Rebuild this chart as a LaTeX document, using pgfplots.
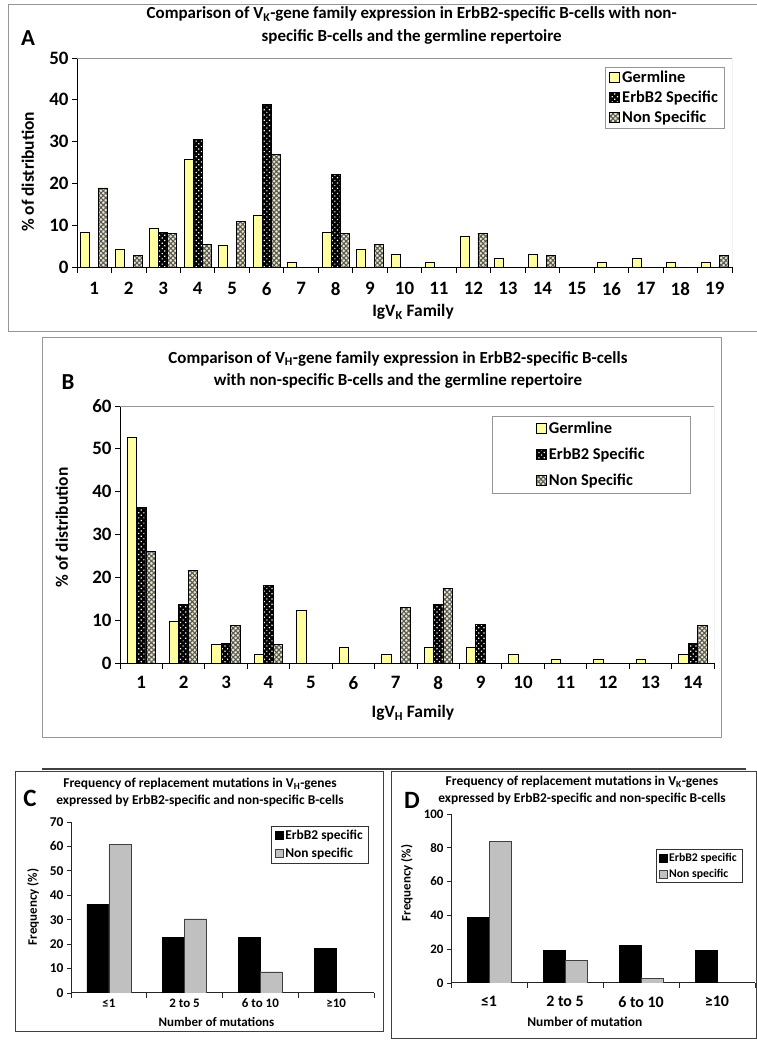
\documentclass[border=0pt]{standalone}
\usepackage{fontspec}
\setmainfont{Carlito}
\usepackage{pgfplots}
\pgfplotsset{compat=1.18}
\usetikzlibrary{patterns,patterns.meta}
\definecolor{germ}{RGB}{255,255,160}
\definecolor{nsbg}{RGB}{236,232,198}
\definecolor{fgray}{RGB}{150,150,150}
\definecolor{ltg}{RGB}{192,192,192}
\tikzset{
  germst/.style={fill=germ,draw=black,line width=0.9bp},
  erbst/.style={fill=black,draw=black,line width=0.9bp,postaction={pattern={Dots[radius=0.85bp,distance=3.7bp,angle=45]},pattern color=white}},
  nonst/.style={fill=nsbg,draw=black,line width=0.9bp,postaction={pattern={Hatch[distance=3.4bp,angle=45,line width=1.1bp]},pattern color=black!65}},
}
\pgfplotsset{
 panelAB/.style={
  scale only axis, axis lines*=left, axis line style={-,black,line width=0.9bp},
  ybar=0pt, ymin=0, enlarge y limits=false,
  tick align=outside, tick style={black, line width=0.8bp},
  major tick length=5bp, minor tick length=6bp,
  major x tick style={draw=none},
  /pgf/number format/assume math mode=true,
  ticklabel style={font=\bfseries\fontsize{19}{19}\selectfont},
  label style={font=\bfseries\fontsize{17.5}{18}\selectfont},
  title style={font=\bfseries\fontsize{17}{23}\selectfont, align=center},
  legend style={draw=fgray, font=\bfseries\fontsize{16.5}{18}\selectfont},
  legend cell align=left,
  legend image code/.code={\draw[##1] (0bp,-5bp) rectangle (10bp,5bp);},
 },
 panelCD/.style={
  scale only axis, axis lines*=left, axis line style={-,black!85,line width=1bp},
  ybar=0pt, ymin=0, enlarge y limits=false,
  tick align=outside, tick style={black!85, line width=0.8bp},
  major tick length=4bp, minor tick length=5bp,
  major x tick style={draw=none},
  xmin=0.5, xmax=4.5, xtick={1,2,3,4}, minor xtick={0.5,1.5,2.5,3.5,4.5},
  xticklabels={≤1,2 to 5,6 to 10,≥10},
  bar width=22bp,
  /pgf/number format/assume math mode=true,
  title style={align=center},
  legend cell align=left,
  legend image code/.code={\draw[##1] (0bp,-4bp) rectangle (8bp,4bp);},
 },
}
\begin{document}
\begin{tikzpicture}[x=1bp,y=1bp]
\useasboundingbox (0,0) rectangle (757,1049);
% frames
\draw[fgray, line width=1bp] (760,1044) -- (8,1044) -- (8,717) -- (760,717);
\draw[fgray, line width=1bp] (42,311) rectangle (721,711);
\draw[black!75, line width=1.2bp] (42,280) -- (746,280);
\draw[black!75, line width=1bp] (15,17) rectangle (383,277);
\draw[black!75, line width=1bp] (391,10) rectangle (756,277);
\node[font=\bfseries\fontsize{23}{23}\selectfont] at (28,1011) {A};
\node[font=\bfseries\fontsize{23}{23}\selectfont] at (68,667) {B};
\node[font=\bfseries\fontsize{25}{25}\selectfont] at (30,251) {C};
\node[font=\bfseries\fontsize{25}{25}\selectfont] at (412,249) {D};

% ---------- Panel A
\begin{axis}[panelAB, at={(77bp,782bp)}, anchor=south west, width=655bp, height=209bp,
 xmin=0.5, xmax=19.5, ymax=50, ytick={0,10,...,50},
 xtick={1,...,19}, minor xtick={0.5,1.5,...,19.5}, bar width=9bp,
 title={Comparison of V\textsubscript{K}-gene family expression in ErbB2-specific B-cells with non-\\specific B-cells and the germline repertoire},
 title style={at={(axis description cs:0.511,1.127)}, anchor=center},
 xlabel={IgV\textsubscript{K} Family}, xlabel style={at={(axis description cs:0.513,-0.215)},anchor=center},
 ylabel={\% of distribution}, ylabel style={at={(axis description cs:-0.075,0.455)},anchor=center},
 legend style={at={(axis description cs:0.988,0.957)},anchor=north east, inner xsep=4bp, row sep=3bp},
 xticklabel style={yshift=-7bp},
]
\addplot[germst] coordinates {(1,8.3)(2,4.2)(3,9.3)(4,25.8)(5,5.2)(6,12.4)(7,1.0)(8,8.3)(9,4.2)(10,3.1)(11,1.0)(12,7.2)(13,2.1)(14,3.1)(16,1.0)(17,2.1)(18,1.0)(19,1.0)};
\addplot[erbst] coordinates {(3,8.3)(4,30.6)(6,38.9)(8,22.2)};
\addplot[nonst] coordinates {(1,18.9)(2,2.7)(3,8.1)(4,5.4)(5,10.8)(6,27.0)(8,8.1)(9,5.4)(12,8.1)(14,2.7)(19,2.7)};
\legend{Germline,ErbB2 Specific,Non Specific}
\draw[fgray, line width=0.9bp] (rel axis cs:0,1) -- (rel axis cs:1,1) -- (rel axis cs:1,0);
\end{axis}

% ---------- Panel B
\begin{axis}[panelAB, at={(120bp,386bp)}, anchor=south west, width=594bp, height=257bp,
 xmin=0.5, xmax=14.5, ymax=60, ytick={0,10,...,60},
 xtick={1,...,14}, minor xtick={0.5,1.5,...,14.5}, bar width=9.5bp,
 title={Comparison of V\textsubscript{H}-gene family expression in ErbB2-specific B-cells\\with non-specific B-cells and the germline repertoire},
 title style={at={(axis description cs:0.468,1.117)}, anchor=center},
 xlabel={IgV\textsubscript{H} Family}, xlabel style={at={(axis description cs:0.493,-0.195)},anchor=center},
 ylabel={\% of distribution}, ylabel style={at={(axis description cs:-0.098,0.527)},anchor=center},
 legend style={at={(axis description cs:0.961,0.961)},anchor=north east, inner xsep=44bp, inner ysep=4bp, row sep=9bp},
 xticklabel style={yshift=-5bp},
]
\addplot[germst] coordinates {(1,52.6)(2,9.8)(3,4.3)(4,1.9)(5,12.2)(6,3.7)(7,1.9)(8,3.7)(9,3.7)(10,1.9)(11,0.9)(12,0.9)(13,0.9)(14,1.9)};
\addplot[erbst] coordinates {(1,36.4)(2,13.6)(3,4.5)(4,18.2)(8,13.6)(9,9.1)(14,4.5)};
\addplot[nonst] coordinates {(1,26.1)(2,21.7)(3,8.7)(4,4.3)(7,13.0)(8,17.4)(14,8.7)};
\legend{Germline,ErbB2 Specific,Non Specific}
\draw[fgray, line width=0.9bp] (rel axis cs:0,1) -- (rel axis cs:1,1) -- (rel axis cs:1,0);
\end{axis}

% ---------- Panel C
\begin{axis}[panelCD, at={(71bp,56bp)}, anchor=south west, width=303bp, height=171bp,
 ymax=70, ytick={0,10,...,70},
 yticklabel style={font=\bfseries\fontsize{13.5}{14}\selectfont},
 xticklabel style={font=\bfseries\fontsize{13}{13}\selectfont, inner sep=0.5bp, yshift=-1bp},
 title={Frequency of replacement mutations in V\textsubscript{H}-genes\\expressed by ErbB2-specific and non-specific B-cells},
 title style={font=\bfseries\fontsize{13.5}{17}\selectfont, at={(axis description cs:0.426,1.137)}, anchor=center},
 xlabel={Number of mutations}, xlabel style={font=\bfseries\fontsize{13}{13}\selectfont, inner sep=0.5bp, at={(axis description cs:0.48,-0.170)},anchor=center},
 ylabel={Frequency (\%)}, ylabel style={font=\bfseries\fontsize{13}{13}\selectfont, at={(axis description cs:-0.125,0.503)},anchor=center},
 legend style={draw=black!80, font=\bfseries\fontsize{13.5}{14}\selectfont, at={(axis description cs:0.983,0.977)},anchor=north east, row sep=3bp, inner xsep=4bp},
]
\addplot[fill=black, draw=black] coordinates {(1,36.4)(2,22.7)(3,22.7)(4,18.2)};
\addplot[fill=ltg, draw=black!75] coordinates {(1,60.9)(2,30.4)(3,8.7)};
\legend{ErbB2 specific,Non specific}
\end{axis}

% ---------- Panel D
\begin{axis}[panelCD, at={(451bp,66bp)}, anchor=south west, width=304bp, height=169bp,
 ymax=100, ytick={0,20,...,100},
 yticklabel style={font=\bfseries\fontsize{13}{13}\selectfont},
 xticklabel style={font=\bfseries\fontsize{16}{16}\selectfont, yshift=-6bp},
 title={Frequency of replacement mutations in V\textsubscript{K}-genes\\expressed by ErbB2-specific and non-specific B-cells},
 title style={font=\bfseries\fontsize{13.5}{17}\selectfont, at={(axis description cs:0.431,1.104)}, anchor=center},
 xlabel={Number of mutation}, xlabel style={font=\bfseries\fontsize{13.5}{14}\selectfont, at={(axis description cs:0.44,-0.231)},anchor=center},
 ylabel={Frequency (\%)}, ylabel style={font=\bfseries\fontsize{13}{13}\selectfont, at={(axis description cs:-0.145,0.592)},anchor=center},
 legend style={draw=black!80, font=\bfseries\fontsize{11.8}{13}\selectfont, at={(axis description cs:0.957,0.793)},anchor=north east, row sep=2bp, inner xsep=3bp},
]
\addplot[fill=black, draw=black] coordinates {(1,38.9)(2,19.4)(3,22.2)(4,19.4)};
\addplot[fill=ltg, draw=black!75] coordinates {(1,83.8)(2,13.5)(3,2.7)};
\legend{ErbB2 specific,Non specific}
\end{axis}
\end{tikzpicture}
\end{document}
